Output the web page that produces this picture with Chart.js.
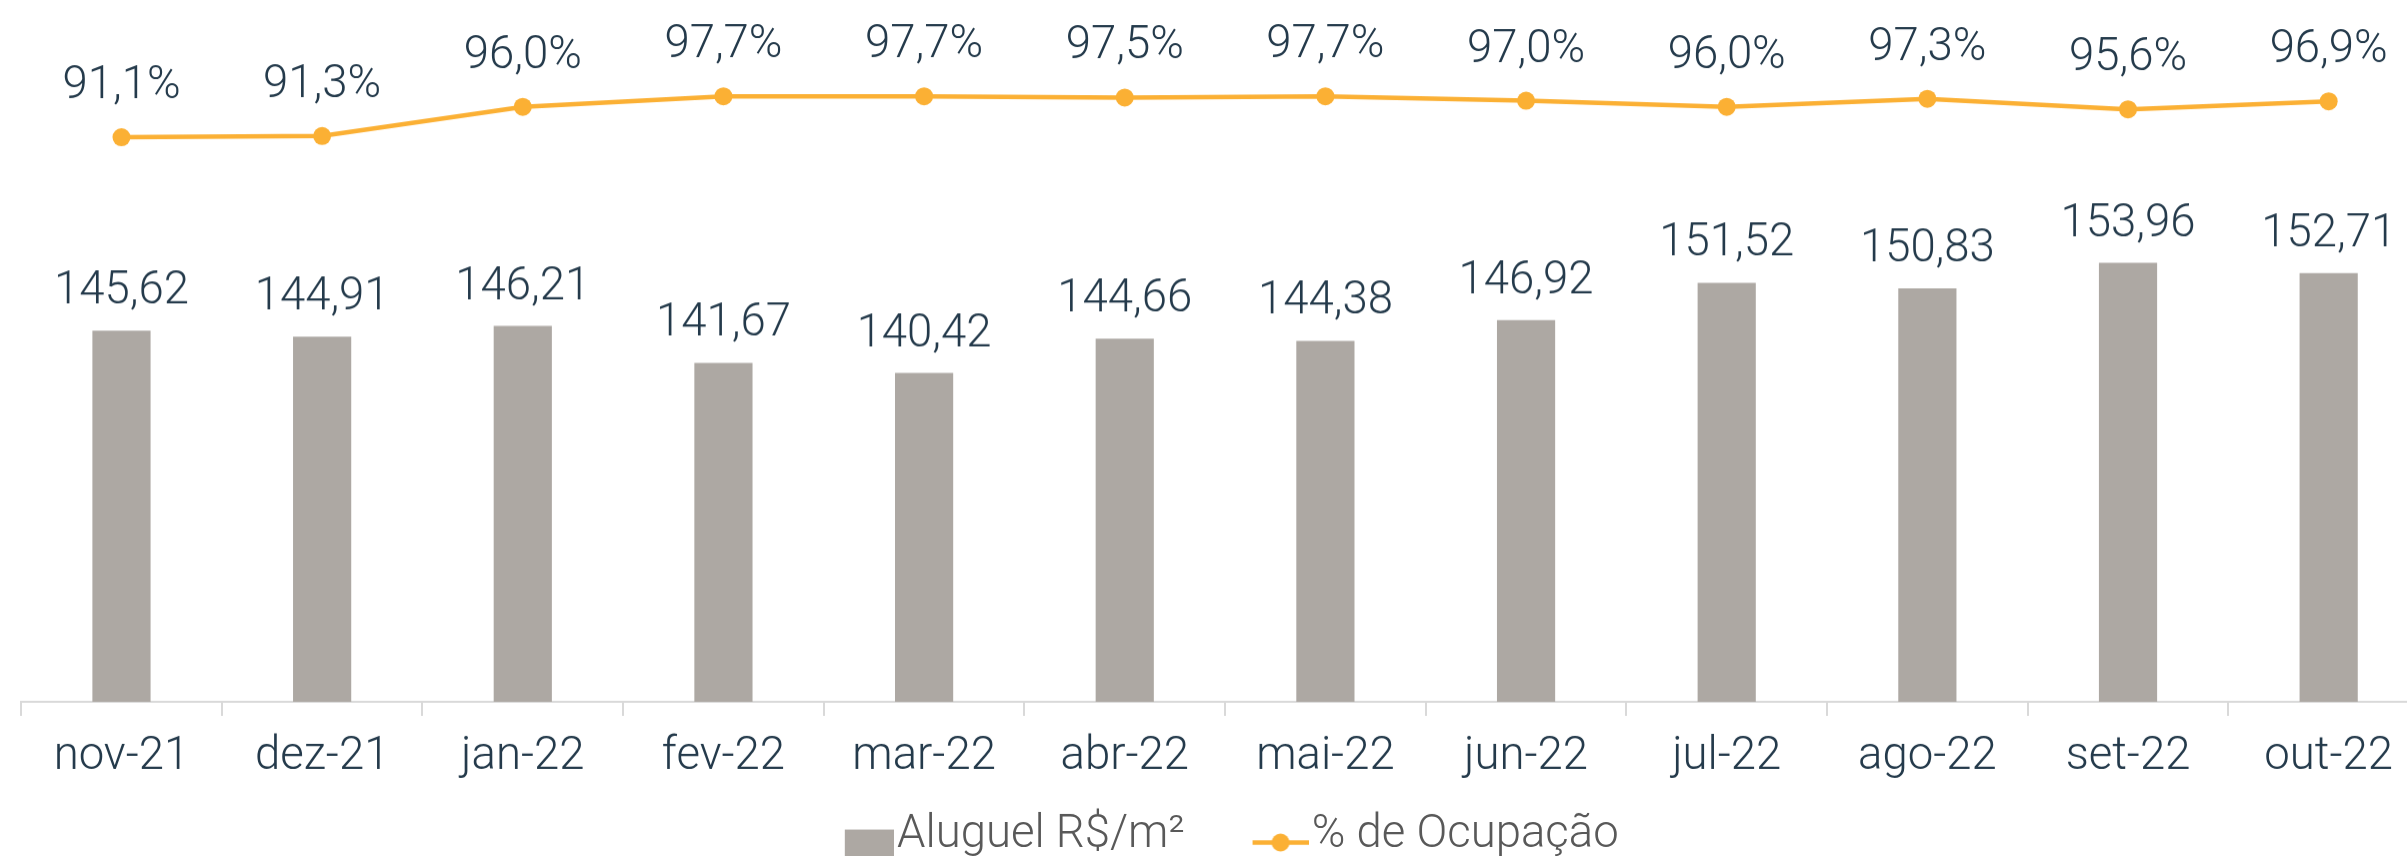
<!DOCTYPE html>
<html>
<head>
<meta charset="utf-8">
<script src="https://cdn.jsdelivr.net/npm/chart.js@4.4.0/dist/chart.umd.min.js"></script>
<style>
  html, body { margin: 0; padding: 0; overflow: hidden; background: #ffffff; width: 2407px; height: 856px; position: relative; }
  #wrap { position: absolute; left: -24.35px; top: 0; width: 2462px; height: 867.75px; }
</style>
</head>
<body>
<div id="wrap"><canvas id="chart"></canvas></div>
<script>
// ---- data ----
const categories = ['nov-21', 'dez-21', 'jan-22', 'fev-22', 'mar-22', 'abr-22', 'mai-22', 'jun-22', 'jul-22', 'ago-22', 'set-22', 'out-22'];
const rentValues = [145.62, 144.91, 146.21, 141.67, 140.42, 144.66, 144.38, 146.92, 151.52, 150.83, 153.96, 152.71];
const occupancyValues = [91.1, 91.3, 96.0, 97.7, 97.7, 97.5, 97.7, 97.0, 96.0, 97.3, 95.6, 96.9];
const seriesNames = ['Aluguel R$/m²', '% de Ocupação'];

// ---- styles ----
const BAR_COLOR = '#ADA8A3';
const LINE_COLOR = '#FBB034';
const TEXT_COLOR = '#243A4B';
const LEGEND_COLOR = '#595959';
const AXIS_COLOR = '#D9D9D9';
const FONT_FAMILY = 'Roboto, "Noto Sans", sans-serif';
const FONT_SIZE = 45.5;
const FONT_WEIGHT = 300;

function makeImg(w, h, draw) {
  const c = document.createElement('canvas');
  c.width = w; c.height = h;
  draw(c.getContext('2d'));
  return c;
}
const barLegendImg = makeImg(118, 39, g => {
  g.fillStyle = BAR_COLOR;
  g.fillRect(69, 13, 49, 26);
});
const lineLegendImg = makeImg(118, 40, g => {
  g.strokeStyle = LINE_COLOR;
  g.lineWidth = 4.5;
  g.beginPath(); g.moveTo(62, 26.5); g.lineTo(118, 26.5); g.stroke();
  g.fillStyle = LINE_COLOR;
  g.beginPath(); g.arc(90, 26.5, 9, 0, Math.PI * 2); g.fill();
});

function fmt(v, d) { return v.toFixed(d).replace('.', ','); }

const valueLabels = {
  id: 'valueLabels',
  afterDatasetsDraw(chart) {
    const ctx = chart.ctx;
    ctx.save();
    ctx.font = FONT_WEIGHT + ' ' + FONT_SIZE + 'px ' + FONT_FAMILY;
    ctx.fillStyle = TEXT_COLOR;
    ctx.textAlign = 'center';
    ctx.textBaseline = 'alphabetic';
    chart.data.datasets.forEach((ds, i) => {
      const meta = chart.getDatasetMeta(i);
      meta.data.forEach((el, j) => {
        const v = ds.data[j];
        if (ds.type === 'line') {
          ctx.fillText(fmt(v, 1) + '%', el.x, el.y - 39);
        } else {
          ctx.fillText(fmt(v, 2), el.x, el.y - 27);
        }
      });
    });
    ctx.restore();
  }
};

const font = { family: FONT_FAMILY, size: FONT_SIZE, weight: FONT_WEIGHT };

new Chart(document.getElementById('chart'), {
  data: {
    labels: categories,
    datasets: [
      {
        type: 'bar',
        label: seriesNames[0],
        data: rentValues,
        yAxisID: 'yBar',
        backgroundColor: BAR_COLOR,
        barPercentage: 0.29,
        categoryPercentage: 1.0
      },
      {
        type: 'line',
        label: seriesNames[1],
        data: occupancyValues,
        yAxisID: 'yLine',
        borderColor: LINE_COLOR,
        backgroundColor: LINE_COLOR,
        borderWidth: 4.5,
        pointRadius: 9,
        pointHoverRadius: 9,
        pointBackgroundColor: LINE_COLOR,
        pointBorderWidth: 0,
        tension: 0
      }
    ]
  },
  options: {
    responsive: true,
    maintainAspectRatio: false,
    animation: false,
    layout: { padding: { left: 0, right: 0, top: 51, bottom: 0 } },
    scales: {
      x: {
        offset: true,
        grid: { display: true, drawOnChartArea: false, drawTicks: true, tickLength: 14, color: AXIS_COLOR, lineWidth: 2, offset: true },
        border: { display: true, color: AXIS_COLOR, width: 2 },
        ticks: { color: TEXT_COLOR, font: font, padding: 14.5, maxRotation: 0, autoSkip: false },
        afterFit(scale) { scale.height = 86; }
      },
      yBar: {
        type: 'linear', position: 'left', display: true, min: 100, max: 180,
        grid: { display: false }, border: { display: false }, ticks: { display: false },
        afterFit(scale) { scale.width = 45.15; }
      },
      yLine: { type: 'linear', display: false, min: 0, max: 105 }
    },
    plugins: {
      tooltip: { enabled: false },
      legend: {
        position: 'bottom',
        labels: {
          usePointStyle: true,
          pointStyleWidth: 79,
          boxHeight: 20,
          padding: 25.25,
          color: LEGEND_COLOR,
          font: font,
          generateLabels(chart) {
            const items = Chart.defaults.plugins.legend.labels.generateLabels(chart);
            items.forEach(it => {
              it.pointStyle = it.datasetIndex === 0 ? barLegendImg : lineLegendImg;
            });
            return items;
          }
        }
      }
    }
  },
  plugins: [valueLabels]
});
</script>
</body>
</html>
